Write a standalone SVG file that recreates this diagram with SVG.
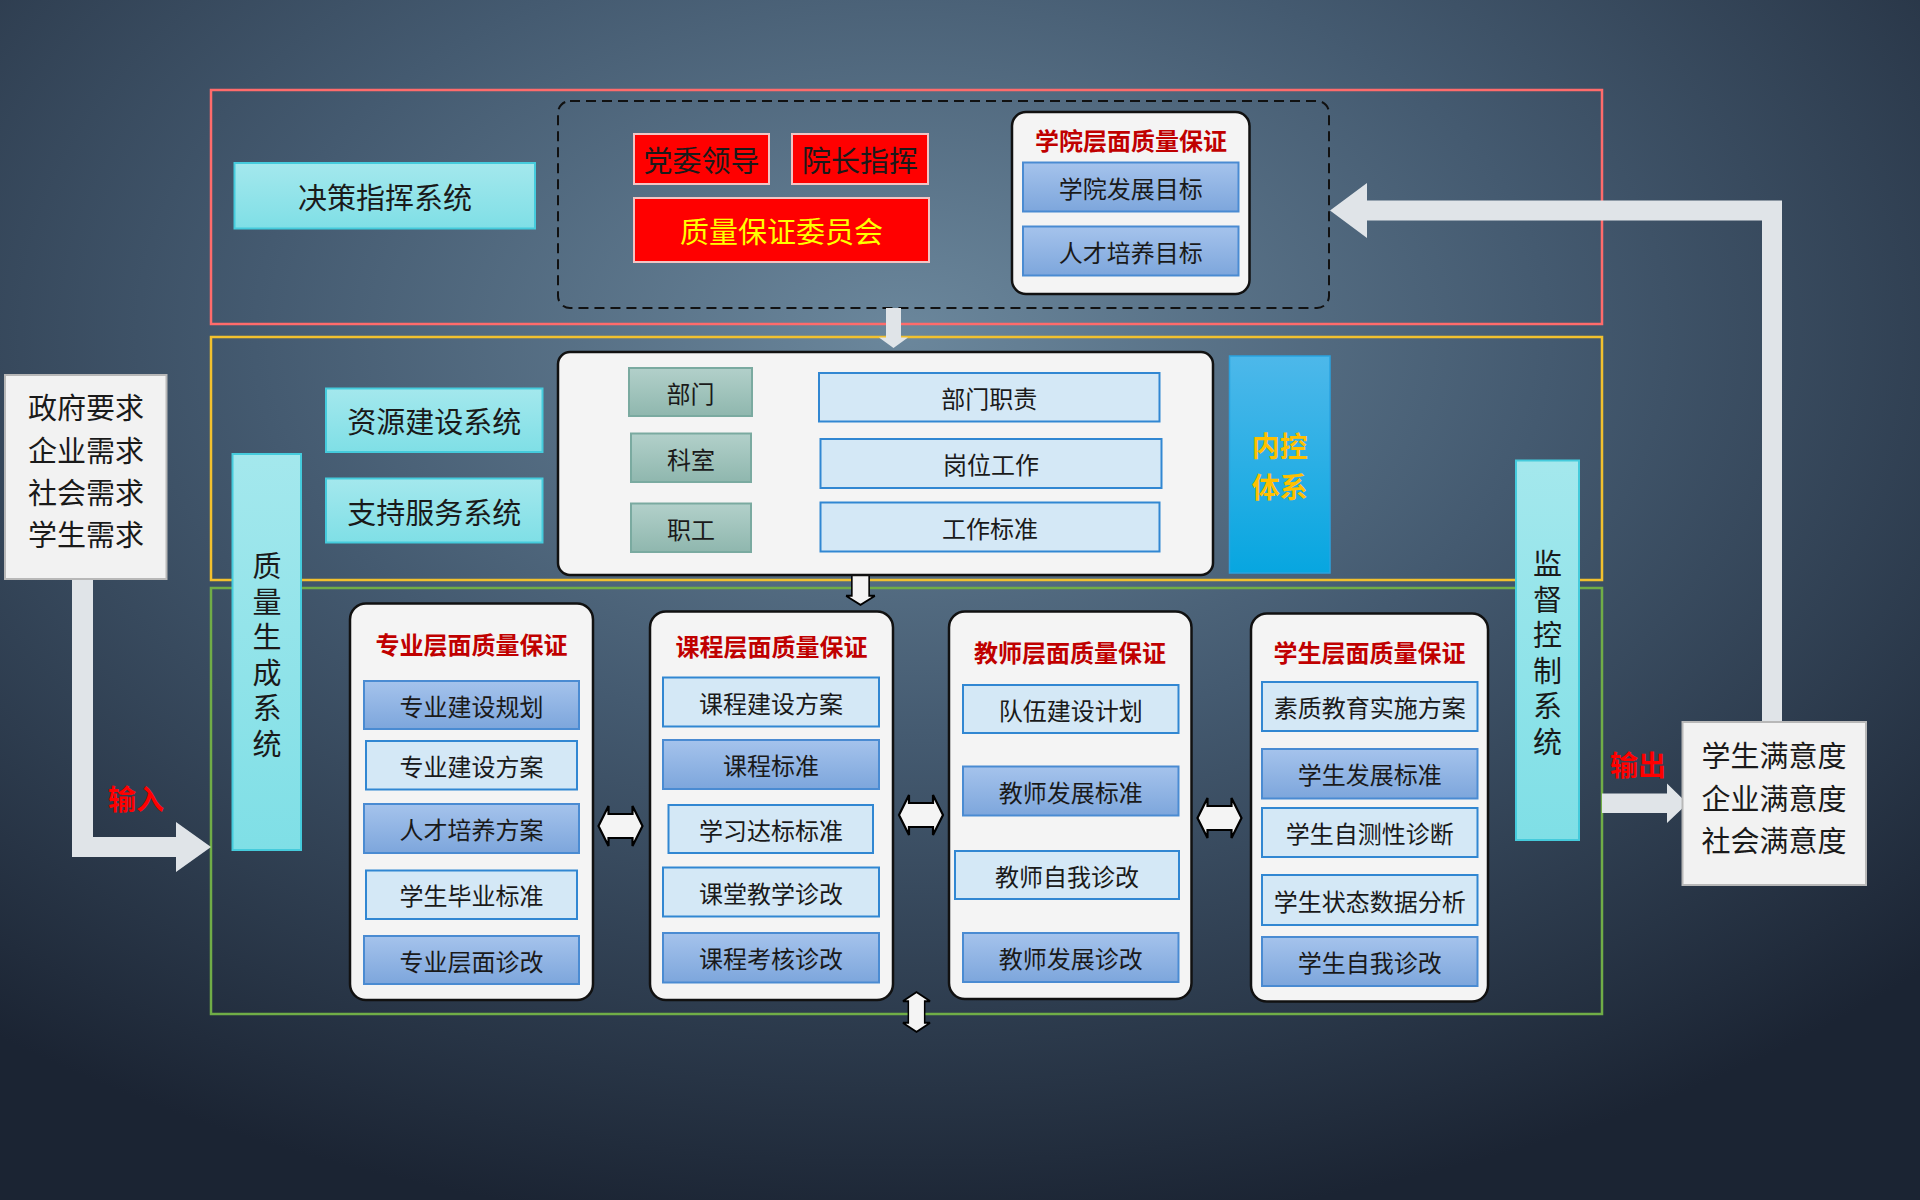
<svg xmlns="http://www.w3.org/2000/svg" xmlns:xlink="http://www.w3.org/1999/xlink" width="1920" height="1200" viewBox="0 0 1920 1200">
<defs>
<radialGradient id="bg" cx="0.47" cy="0.28" r="0.75">
<stop offset="0" stop-color="#6b879c"/>
<stop offset="0.45" stop-color="#445a70"/>
<stop offset="1" stop-color="#1b2433"/>
</radialGradient>
<linearGradient id="cyan" x1="0" y1="0" x2="0" y2="1">
<stop offset="0" stop-color="#a4e8ed"/>
<stop offset="1" stop-color="#7fdfe6"/>
</linearGradient>
<linearGradient id="blue" x1="0" y1="0" x2="0" y2="1">
<stop offset="0" stop-color="#a5c3ec"/>
<stop offset="1" stop-color="#7da6dc"/>
</linearGradient>
<linearGradient id="gray" x1="0" y1="0" x2="0" y2="1">
<stop offset="0" stop-color="#b2d0ca"/>
<stop offset="1" stop-color="#8fb7ae"/>
</linearGradient>
<linearGradient id="sky" x1="0" y1="0" x2="0" y2="1">
<stop offset="0" stop-color="#4db8ea"/>
<stop offset="1" stop-color="#07a6e0"/>
</linearGradient>
<path id="dh" d="M-22,0 L-12,-20 L-12,-12 L12,-12 L12,-20 L22,0 L12,20 L12,12 L-12,12 L-12,20 Z"/>
<style>
text{font-family:"Noto Sans CJK SC","Noto Sans",sans-serif;text-anchor:middle;dominant-baseline:central;fill:#1a1a1a}
.t30{font-size:29px}
.t24{font-size:24px}
.ttl{font-size:24px;font-weight:bold;fill:#c00000}
.red{font-size:28px;font-weight:bold;fill:#ff0000}
.vt{font-size:29px;writing-mode:vertical-rl;letter-spacing:6.5px}
.cy{fill:url(#cyan);stroke:#45cbdc;stroke-width:2}
.lb{fill:#d4e8f6;stroke:#3187d2;stroke-width:2}
.db{fill:url(#blue);stroke:#4a8bd2;stroke-width:2}
.gg{fill:url(#gray);stroke:#7aaaa0;stroke-width:2}
.pan{fill:#f4f4f4;stroke:#111;stroke-width:2.5}
.rb{fill:#ff0000;stroke:#f2c4c4;stroke-width:2}
.io{fill:#f2f2f2;stroke:#b8b8b8;stroke-width:2}
.arr{fill:#e0e4e8}
.dar{fill:#f4f4f4;stroke:#000;stroke-width:2.2;stroke-linejoin:miter}
.nk{font-size:28px;font-weight:bold;fill:#ffc000}
</style>
</defs>
<rect width="1920" height="1200" fill="url(#bg)"/>

<g id="frames" fill="none">
<rect x="211" y="90" width="1391" height="234" stroke="#ff6b6b" stroke-width="2.5"/>
<rect x="211" y="337" width="1391" height="243" stroke="#f2c12e" stroke-width="2.5"/>
<rect x="211" y="588" width="1391" height="426" stroke="#70ad47" stroke-width="2.5"/>
<rect x="558" y="101" width="771" height="207" rx="12" stroke="#111" stroke-width="2" stroke-dasharray="10,6"/>
</g>

<g id="connectors">
<polygon class="arr" points="1330,210.5 1367,183 1367,200.5 1782,200.5 1782,722 1762,722 1762,220.5 1367,220.5 1367,238"/>
<polygon class="arr" points="886,308 901,308 901,337.5 908,337.5 893.5,348 879,337.5 886,337.5"/>
<polygon class="arr" points="72,579 93,579 93,837 176,837 176,822 211,847 176,872 176,857 72,857"/>
<polygon class="arr" points="1602,793.5 1667,793.5 1667,783.5 1687.5,803.5 1667,823 1667,813 1602,813"/>
<use href="#dh" class="dar" transform="translate(620.5,826)"/>
<use href="#dh" class="dar" transform="translate(921,815)"/>
<use href="#dh" class="dar" transform="translate(1219.5,818)"/>
<use href="#dh" class="dar" transform="translate(860.5,585) rotate(90) scale(0.9,0.72)"/>
<use href="#dh" class="dar" transform="translate(916.5,1012) rotate(90) scale(0.9,0.68)"/>
</g>

<g id="n-decision">
<rect class="cy" x="234.5" y="163" width="300.5" height="65.5"/>
<text class="t30" x="385" y="196">决策指挥系统</text>
</g>
<g id="n-party">
<rect class="rb" x="634" y="134" width="135" height="50"/>
<text class="t30" x="701.5" y="159">党委领导</text>
</g>
<g id="n-president">
<rect class="rb" x="792" y="134" width="136" height="50"/>
<text class="t30" x="860" y="159">院长指挥</text>
</g>
<g id="n-committee">
<rect class="rb" x="634" y="198" width="295" height="64"/>
<text class="t30" x="781.5" y="230" style="fill:#ffff00">质量保证委员会</text>
</g>
<g id="n-college">
<rect class="pan" x="1012" y="112" width="237.5" height="182" rx="14"/>
<text class="ttl" x="1131" y="139">学院层面质量保证</text>
<rect class="db" x="1023" y="162.5" width="215.5" height="49"/>
<text class="t24" x="1130.8" y="187">学院发展目标</text>
<rect class="db" x="1023" y="226.5" width="215.5" height="49"/>
<text class="t24" x="1130.8" y="251">人才培养目标</text>
</g>

<g id="n-input">
<rect class="io" x="5" y="375" width="161.5" height="204"/>
<text class="t30" x="86" y="406"><tspan x="86" y="406">政府要求</tspan><tspan x="86" y="448.5">企业需求</tspan><tspan x="86" y="490.5">社会需求</tspan><tspan x="86" y="532.5">学生需求</tspan></text>
</g>
<text class="red" x="136" y="798">输入</text>

<g id="n-resource">
<rect class="cy" x="326" y="388.5" width="216.5" height="63.5"/>
<text class="t30" x="434.3" y="420">资源建设系统</text>
</g>
<g id="n-support">
<rect class="cy" x="326" y="478.5" width="216.5" height="64"/>
<text class="t30" x="434.3" y="510.5">支持服务系统</text>
</g>
<g id="n-generate">
<rect class="cy" x="232.5" y="454" width="68.5" height="396"/>
<text class="vt" x="267" y="658">质量生成系统</text>
</g>

<g id="n-dept">
<rect class="pan" x="558" y="352" width="655" height="223" rx="12"/>
<rect class="gg" x="629" y="368" width="123" height="48"/>
<text class="t24" x="690.5" y="392">部门</text>
<rect class="gg" x="631" y="433.5" width="120" height="48.5"/>
<text class="t24" x="691" y="458">科室</text>
<rect class="gg" x="631" y="503.5" width="120" height="48.5"/>
<text class="t24" x="691" y="528">职工</text>
<rect class="lb" x="819" y="373" width="340.5" height="48.5"/>
<text class="t24" x="989.3" y="397.3">部门职责</text>
<rect class="lb" x="820.5" y="439" width="341" height="49"/>
<text class="t24" x="991" y="463.5">岗位工作</text>
<rect class="lb" x="820.5" y="502.5" width="339" height="49"/>
<text class="t24" x="990" y="527">工作标准</text>
</g>
<g id="n-internal">
<rect x="1229.5" y="356" width="100.5" height="217" fill="url(#sky)" stroke="#2aa3e0" stroke-width="1.5"/>
<text class="nk" x="1279.7" y="445">内控</text>
<text class="nk" x="1279.7" y="486">体系</text>
</g>
<g id="n-supervise">
<rect class="cy" x="1516" y="460.5" width="63" height="379.5"/>
<text class="vt" x="1547.5" y="656">监督控制系统</text>
</g>

<g id="n-major">
<rect class="pan" x="350" y="603.5" width="243" height="396.5" rx="16"/>
<text class="ttl" x="471.5" y="643">专业层面质量保证</text>
<rect class="db" x="364" y="681" width="215" height="48"/>
<text class="t24" x="471.5" y="705">专业建设规划</text>
<rect class="lb" x="366" y="741" width="211" height="48.5"/>
<text class="t24" x="471.5" y="765.3">专业建设方案</text>
<rect class="db" x="364" y="804" width="215" height="49"/>
<text class="t24" x="471.5" y="828.5">人才培养方案</text>
<rect class="lb" x="366" y="870.5" width="211" height="48.5"/>
<text class="t24" x="471.5" y="894.8">学生毕业标准</text>
<rect class="db" x="364" y="936" width="215" height="48"/>
<text class="t24" x="471.5" y="960">专业层面诊改</text>
</g>

<g id="n-course">
<rect class="pan" x="650" y="611.5" width="243" height="388.5" rx="16"/>
<text class="ttl" x="771.5" y="645">课程层面质量保证</text>
<rect class="lb" x="663" y="677.5" width="216" height="49"/>
<text class="t24" x="771" y="702">课程建设方案</text>
<rect class="db" x="663" y="740" width="216" height="49"/>
<text class="t24" x="771" y="764.5">课程标准</text>
<rect class="lb" x="668.5" y="805" width="204.5" height="48"/>
<text class="t24" x="771" y="829">学习达标标准</text>
<rect class="lb" x="663" y="867.5" width="216" height="49"/>
<text class="t24" x="771" y="892">课堂教学诊改</text>
<rect class="db" x="663" y="933" width="216" height="49.5"/>
<text class="t24" x="771" y="957.7">课程考核诊改</text>
</g>

<g id="n-teacher">
<rect class="pan" x="949" y="611.5" width="242.5" height="387.5" rx="16"/>
<text class="ttl" x="1070" y="651">教师层面质量保证</text>
<rect class="lb" x="963" y="685" width="215.5" height="48"/>
<text class="t24" x="1070.7" y="709">队伍建设计划</text>
<rect class="db" x="963" y="766.5" width="215.5" height="49"/>
<text class="t24" x="1070.7" y="791">教师发展标准</text>
<rect class="lb" x="955" y="851" width="224" height="48"/>
<text class="t24" x="1067" y="875">教师自我诊改</text>
<rect class="db" x="963" y="933" width="215.5" height="49"/>
<text class="t24" x="1070.7" y="957.5">教师发展诊改</text>
</g>

<g id="n-student">
<rect class="pan" x="1251" y="613.5" width="237" height="388" rx="16"/>
<text class="ttl" x="1369.5" y="651">学生层面质量保证</text>
<rect class="lb" x="1262" y="682" width="215.5" height="49"/>
<text class="t24" x="1369.7" y="706.5">素质教育实施方案</text>
<rect class="db" x="1262" y="749" width="215.5" height="49.5"/>
<text class="t24" x="1369.7" y="773.8">学生发展标准</text>
<rect class="lb" x="1262" y="808" width="215.5" height="49"/>
<text class="t24" x="1369.7" y="832.5">学生自测性诊断</text>
<rect class="lb" x="1262" y="875" width="215.5" height="50"/>
<text class="t24" x="1369.7" y="900">学生状态数据分析</text>
<rect class="db" x="1262" y="937" width="215.5" height="49"/>
<text class="t24" x="1369.7" y="961.5">学生自我诊改</text>
</g>

<text class="red" x="1638" y="764">输出</text>
<g id="n-output">
<rect class="io" x="1682.5" y="722" width="183.5" height="163"/>
<text class="t30" x="1774" y="754"><tspan x="1774" y="754">学生满意度</tspan><tspan x="1774" y="796.7">企业满意度</tspan><tspan x="1774" y="839">社会满意度</tspan></text>
</g>
</svg>
